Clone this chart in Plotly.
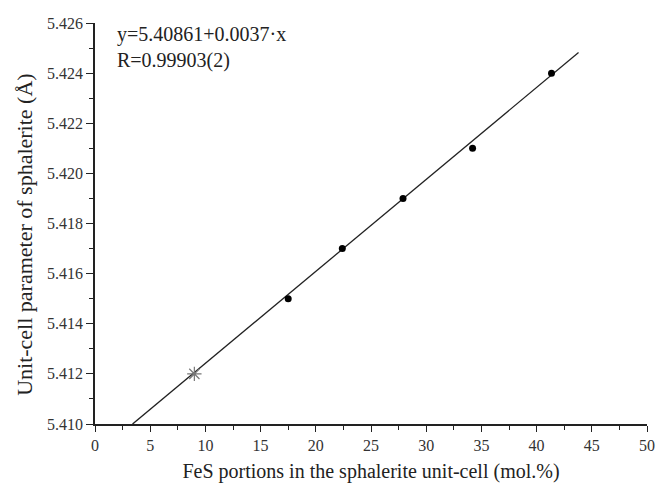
import plotly.graph_objects as go

fes_x = [17.5, 22.4, 27.9, 34.2, 41.35]
cell_a = [5.415, 5.417, 5.419, 5.421, 5.424]
star_x = [9.0]
star_y = [5.412]
fit_intercept = 5.40875
fit_slope = 0.000367
fit_x = [3.4, 43.8]
fit_y = [fit_intercept + fit_slope * v for v in fit_x]

font = "Liberation Serif, Times New Roman, serif"

fig = go.Figure()
fig.add_trace(go.Scatter(x=fit_x, y=fit_y, mode="lines",
                         line=dict(color="#222", width=1.3), showlegend=False, cliponaxis=True))
fig.add_trace(go.Scatter(x=fes_x, y=cell_a, mode="markers",
                         marker=dict(color="black", size=7, symbol="circle"), showlegend=False))
fig.add_trace(go.Scatter(x=star_x, y=star_y, mode="markers",
                         marker=dict(color="#777", size=12, symbol="asterisk-open",
                                     line=dict(color="#777", width=1.2)), showlegend=False))

fig.update_layout(
    width=656, height=485,
    margin=dict(l=95, r=9, t=23, b=61),
    paper_bgcolor="white", plot_bgcolor="white",
    font=dict(family=font, color="#222", size=16),
    xaxis=dict(range=[0, 50], dtick=5, tick0=0, showgrid=False, zeroline=False, automargin=False,
               showline=True, linecolor="#222", linewidth=1.5,
               ticks="outside", ticklen=6, tickwidth=1.3, tickcolor="#222",
               minor=dict(dtick=2.5, ticks="outside", ticklen=4, tickwidth=1.2, tickcolor="#222"),
               tickfont=dict(family=font, size=16, color="#333"),
               title=dict(text="FeS portions in the sphalerite unit-cell (mol.%)",
                          font=dict(family=font, size=20, color="#222"), standoff=11)),
    yaxis=dict(range=[5.410, 5.426], dtick=0.002, tick0=5.410, showgrid=False, zeroline=False,
               automargin=False,
               showline=True, linecolor="#222", linewidth=1.5, tickformat=".3f",
               ticks="outside", ticklen=7, tickwidth=1.3, tickcolor="#222",
               minor=dict(dtick=0.001, ticks="outside", ticklen=4, tickwidth=1.2, tickcolor="#222"),
               tickfont=dict(family=font, size=16, color="#333")),
    annotations=[
        dict(x=0.037, y=1.005, xref="paper", yref="paper", xanchor="left", yanchor="top",
             text="y=5.40861+0.0037·x<br>R=0.99903(2)", showarrow=False, align="left",
             font=dict(family=font, size=20, color="#222")),
        dict(x=-0.128, y=0.4725, xref="paper", yref="paper", xanchor="center", yanchor="middle",
             text="Unit-cell parameter of sphalerite (Å)", textangle=-90, showarrow=False,
             font=dict(family=font, size=22, color="#222")),
    ],
)

fig.write_html("out.html")
